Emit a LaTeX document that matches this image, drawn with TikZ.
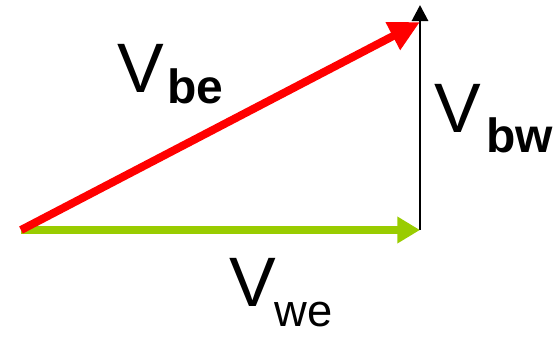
\documentclass[tikz,border=0pt]{standalone}
\usepackage{fontspec}
\setmainfont{Liberation Sans}
\usetikzlibrary{arrows.meta}
\definecolor{vred}{RGB}{255,0,0}
\definecolor{vgreen}{RGB}{153,204,0}
\tikzset{
  vec/.style={line cap=butt},
  big/.style={inner sep=0pt,anchor=base west,font=\fontsize{52.5pt}{60pt}\selectfont},
  subb/.style={inner sep=0pt,anchor=base west,font=\fontsize{36pt}{40pt}\selectfont\bfseries},
  subr/.style={inner sep=0pt,anchor=base west,font=\fontsize{34pt}{40pt}\selectfont},
}
\begin{document}
\begin{tikzpicture}[x=0.75pt,y=-0.75pt]
\useasboundingbox (0,0) rectangle (559,336);
\coordinate (O) at (21,230);
\coordinate (E) at (420,230);
\coordinate (T) at (420,22);
\coordinate (B) at (420,5);
\draw[vec,line width=2.2pt,-{Triangle[length=12pt,width=12pt]}] (E) -- (B);
\draw[vec,vgreen,line width=5.5pt,-{Triangle[length=17pt,width=19pt]}] (O) -- (E);
\draw[vec,vred,line width=6pt,-{Triangle[length=23pt,width=22pt]}] (O) -- (T);
\node[big] (vbe) at (117,92) {V};
\node[subb] (sbe) at (167,103) {be};
\node[big] (vbw) at (434,132) {V};
\node[subb] (sbw) at (486,152) {bw};
\node[big] (vwe) at (229,306) {V};
\node[subr] (swe) at (274,326) {we};
\end{tikzpicture}
\end{document}
